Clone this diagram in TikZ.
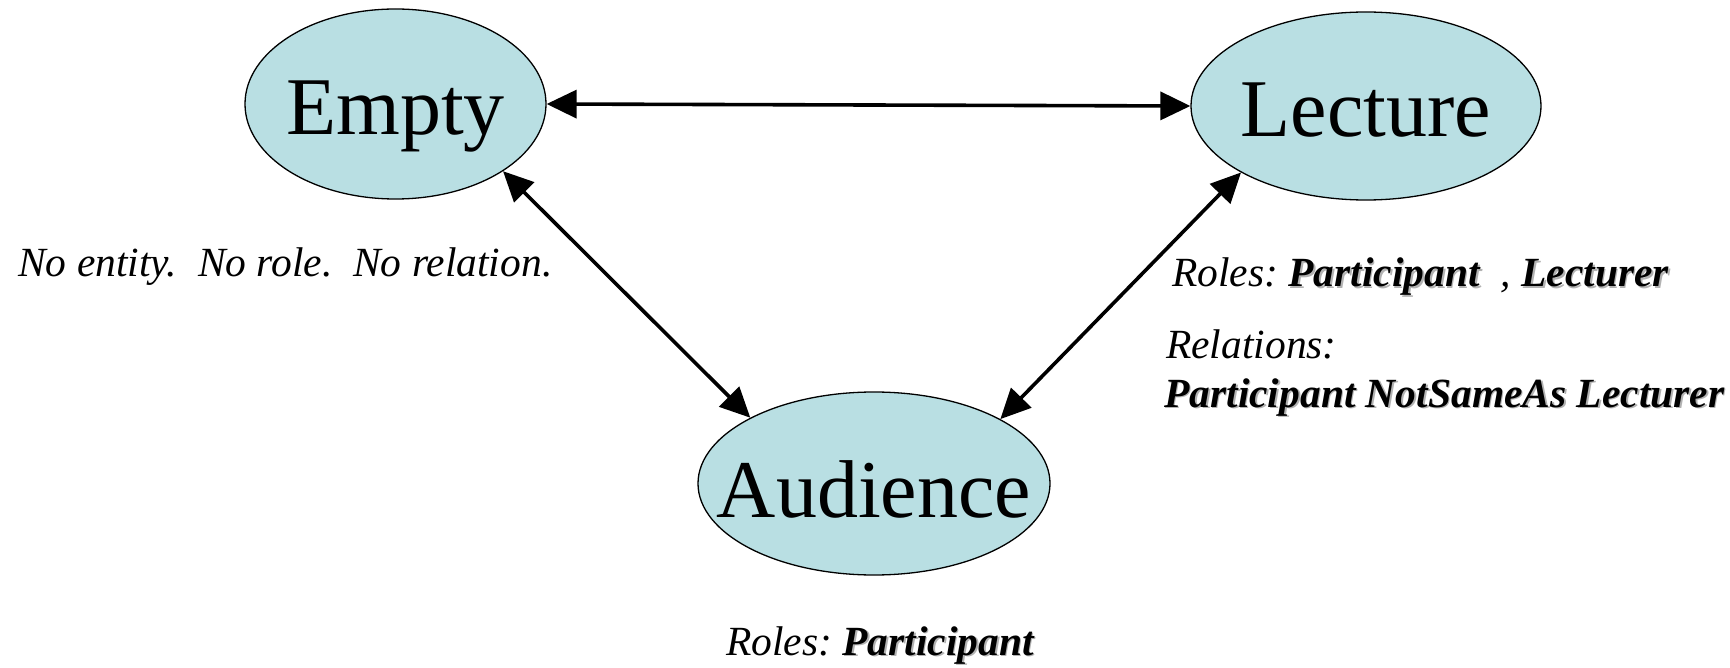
\documentclass[tikz,border=0pt]{standalone}
\usepackage{fontspec}
\setmainfont{Liberation Serif}
\usetikzlibrary{shapes.geometric,arrows.meta}
\definecolor{ellfill}{RGB}{185,223,227}
\newcommand\shadowed[1]{\makebox[0pt][l]{\hspace{1.6pt}\raisebox{-1.6pt}{\textcolor{black!30}{#1}}}#1}
\frenchspacing
\begin{document}
\begin{tikzpicture}[x=1pt,y=-1pt,
  state/.style={ellipse, draw=black, line width=1.3pt, fill=ellfill, inner sep=0pt},
  statetext/.style={anchor=base, font=\fontsize{82}{98}\selectfont, inner sep=0pt},
  lbl/.style={anchor=base west, font=\fontsize{41.5}{50}\selectfont\itshape, inner sep=0pt},
  conn/.style={line width=3.6pt, {Triangle[length=30pt,width=28pt]}-{Triangle[length=30pt,width=28pt]}}]
\useasboundingbox (0,0) rectangle (1730,668);
\node[state, minimum width=301pt, minimum height=190pt] (E) at (395.5,104) {};
\node[state, minimum width=350pt, minimum height=188pt] (L) at (1366,106) {};
\node[state, minimum width=352pt, minimum height=183pt] (A) at (874,483.5) {};
\node[statetext] (Et) at (395.5,135) {Empty};
\node[statetext] (Lt) at (1366,137) {Lecture};
\node[statetext] (At) at (874,517) {Audience};
\draw[conn] (E.east) -- (L.west);
\draw[conn] (E.-32.3) -- (A.152.5);
\draw[conn] (L.208.4) -- (A.27.5);
\node[lbl] (n1) at (18,277) {No entity.\ \ No role.\ \ No relation.};
\node[lbl] (r1) at (1172,287) {Roles: {\bfseries\shadowed{Participant}}\ \ , {\bfseries\shadowed{Lecturer}}};
\node[lbl] (r2) at (1166,359) {Relations:};
\node[lbl] (r3) at (1164,407) {\bfseries\shadowed{Participant NotSameAs Lecturer}};
\node[lbl, anchor=base] (a1) at (880,655) {Roles: {\bfseries\shadowed{Participant}}};
\end{tikzpicture}
\end{document}
